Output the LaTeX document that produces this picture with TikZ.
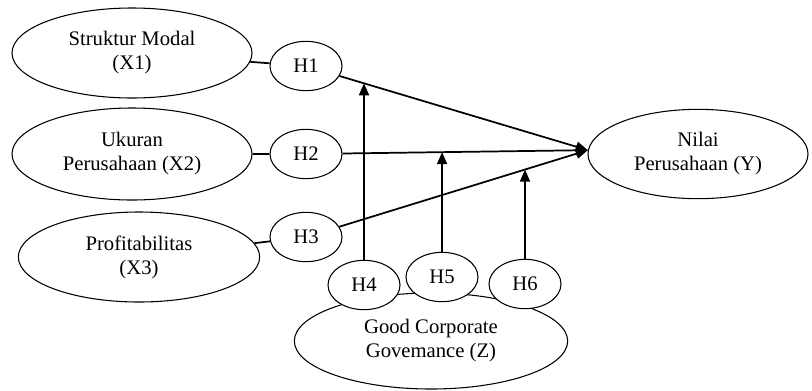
\documentclass[tikz,border=0pt]{standalone}
\usepackage{fontspec}
\setmainfont{Liberation Serif}
\usetikzlibrary{shapes.geometric, arrows.meta}
\tikzset{
    var/.style = {draw, ellipse, line width = .8pt, fill = white, inner sep = 0pt, align = center, font = \fontsize{15.5}{18}\selectfont},
    hyp/.style = {var, minimum width = 54pt, minimum height = 37pt},
    link/.style = {line width = 1.3pt},
    effect/.style = {link, -{Triangle[length = 9pt, width = 7.5pt]}}
}

\begin{document}
\begin{tikzpicture}[x = .75pt, y = -.75pt]%
    \useasboundingbox (0, 0) rectangle (812, 390);
    \node[var, minimum width = 180pt, minimum height = 67.5pt] (X1) at (132, 53) {Struktur Modal\\(X1)};
    \node[var, minimum width = 180pt, minimum height = 69pt] (X2) at (132, 154) {Ukuran\\Perusahaan (X2)};
    \node[var, minimum width = 181pt, minimum height = 67.5pt] (X3) at (139, 257) {Profitabilitas\\(X3)};
    \node[var, minimum width = 165pt, minimum height = 67pt] (Y) at (698, 154) {Nilai\\Perusahaan (Y)};
    \node[var, minimum width = 205pt, minimum height = 72pt] (Z) at (431, 341) {Good Corporate\\Govemance (Z)};
    \node[hyp] (H1) at (306, 66) {H1};
    \node[hyp] (H2) at (306, 154) {H2};
    \node[hyp] (H3) at (306, 237) {H3};
    \node[hyp] (H4) at (364, 285) {H4};
    \node[hyp] (H5) at (442, 277) {H5};
    \node[hyp] (H6) at (525, 284) {H6};
    \draw[link] (X1) -- (H1) (X2) -- (H2) (X3) -- (H3);
    \draw[effect] (H1) -- (Y.178);
    \draw[effect] (H2) -- (Y.178);
    \draw[effect] (H3) -- (Y.178);
    \coordinate (m4) at (intersection of H1.center--Y.178 and H4.center--H4.north);
    \coordinate (m5) at (intersection of H2.center--Y.178 and H5.center--H5.north);
    \coordinate (m6) at (intersection of H3.center--Y.178 and H6.center--H6.north);
    \draw[effect] (H4) -- (m4);
    \draw[effect] (H5) -- (m5);
    \draw[effect] (H6) -- (m6);
\end{tikzpicture}
\end{document}
